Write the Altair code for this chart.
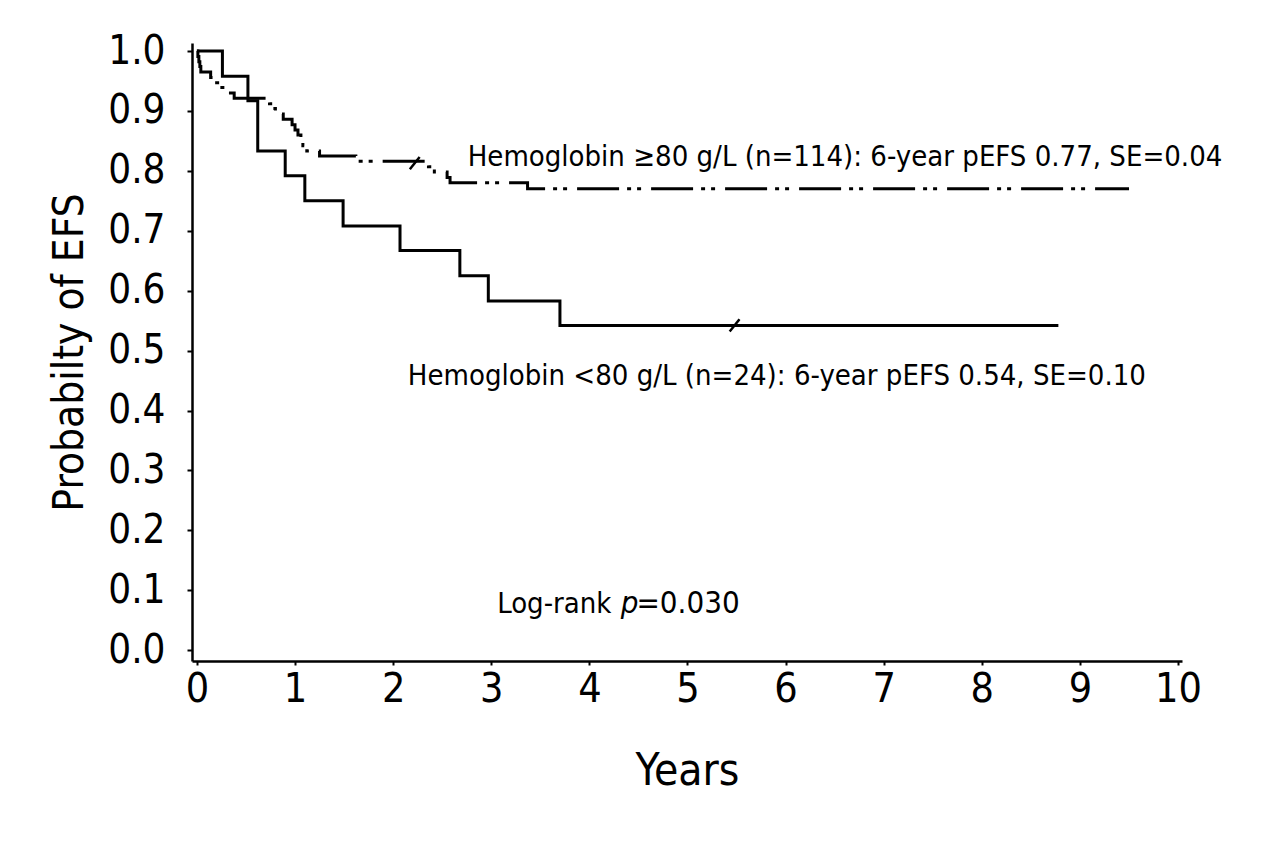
import altair as alt
import pandas as pd

# Hemoglobin >= 80 g/L (n=114) Kaplan-Meier steps
hi_t = [0.0, 0.01, 0.02, 0.03, 0.04, 0.14, 0.18, 0.23, 0.30, 0.38, 0.74, 0.77, 0.80,
        0.88, 0.97, 1.00, 1.03, 1.06, 1.08, 1.12, 1.25, 1.62, 2.36, 2.42, 2.55, 2.58,
        3.37, 9.50]
hi_s = [1.000, 0.991, 0.982, 0.974, 0.965, 0.956, 0.947, 0.939, 0.930, 0.921, 0.912,
        0.904, 0.895, 0.886, 0.877, 0.868, 0.860, 0.851, 0.842, 0.833, 0.825, 0.816,
        0.807, 0.798, 0.789, 0.780, 0.770, 0.770]

# Hemoglobin < 80 g/L (n=24)
lo_t = [0.0, 0.26, 0.52, 0.62, 0.90, 1.10, 1.49, 2.07, 2.68, 2.97, 3.70, 8.78]
lo_s = [1.000, 0.958, 0.917, 0.833, 0.792, 0.750, 0.708, 0.667, 0.625, 0.583, 0.542, 0.542]

# censored observations (tick marks)
cens_t = [2.22, 5.48]
cens_s = [0.813, 0.542]

# annotations
ann_text = ["Hemoglobin \u226580 g/L (n=114): 6-year pEFS 0.77, SE=0.04",
            "Hemoglobin <80 g/L (n=24): 6-year pEFS 0.54, SE=0.10",
            "Log-rank", "=0.030"]
ann_t = [2.76, 2.15, 3.06, 4.48]
ann_s = [0.823, 0.457, 0.077, 0.077]
ann_size = [29, 29, 29, 31]
p_text = ["p"]
p_t = [4.32]
p_s = [0.077]

x_ticks = list(range(0, 11))
y_ticks = [round(i / 10, 1) for i in range(0, 11)]

FONT = "DejaVu Sans Condensed"

hi_df = pd.DataFrame({"t": hi_t, "s": hi_s})
lo_df = pd.DataFrame({"t": lo_t, "s": lo_s})
cens_df = pd.DataFrame({"t": cens_t, "s": cens_s})
ann_df = pd.DataFrame({"t": ann_t, "s": ann_s, "label": ann_text, "size": ann_size})
p_df = pd.DataFrame({"t": p_t, "s": p_s, "label": p_text})

xscale = alt.Scale(domain=[-0.05, 10.04], nice=False, zero=False)
yscale = alt.Scale(domain=[-0.018, 1.0134], nice=False, zero=False)

xenc = alt.X("t:Q", scale=xscale, axis=alt.Axis(
    values=x_ticks, title="Years", format="d", grid=False,
    labelFont=FONT, labelFontSize=41, labelColor="black", labelPadding=4,
    tickSize=4, tickColor="black", tickWidth=2, domainColor="black", domainWidth=2.5,
    titleFont=FONT, titleFontSize=44, titleFontWeight="normal", titleColor="black",
    titlePadding=40))
yenc = alt.Y("s:Q", scale=yscale, axis=alt.Axis(
    values=y_ticks, title="Probabilty of EFS", format=".1f", grid=False,
    labelFont=FONT, labelFontSize=40, labelColor="black", labelPadding=22,
    tickSize=5, tickColor="black", tickWidth=2, domainColor="black", domainWidth=2.5,
    titleFont=FONT, titleFontSize=42, titleFontWeight="normal", titleColor="black",
    titlePadding=16))

lo_line = alt.Chart(lo_df).mark_line(
    interpolate="step-after", color="black", strokeWidth=3).encode(x=xenc, y=yenc)
hi_line = alt.Chart(hi_df).mark_line(
    interpolate="step-after", color="black", strokeWidth=3,
    strokeDash=[42, 8, 4, 6, 4, 10]).encode(x="t:Q", y="s:Q")
cens = alt.Chart(cens_df).mark_point(
    shape="M -0.8 1 L 0.8 -1", size=150, filled=False, stroke="black",
    strokeWidth=2.5, opacity=1).encode(x="t:Q", y="s:Q")
ann = alt.Chart(ann_df).mark_text(
    font=FONT, color="black", align="left", baseline="middle").encode(
    x="t:Q", y="s:Q", text="label:N",
    size=alt.Size("size:Q", scale=None, legend=None))
pann = alt.Chart(p_df).mark_text(
    font=FONT, fontSize=31, fontStyle="italic", color="black", align="left",
    baseline="middle").encode(x="t:Q", y="s:Q", text="label:N")

chart = alt.layer(lo_line, hi_line, cens, ann, pann).properties(
    width=990, height=618,
    autosize=alt.AutoSizeParams(type="none"),
    padding={"left": 184, "top": 35, "right": 90, "bottom": 170},
    background="white",
).configure_view(stroke=None)

chart.save("out.html", embed_options={"renderer": "svg", "actions": False})
